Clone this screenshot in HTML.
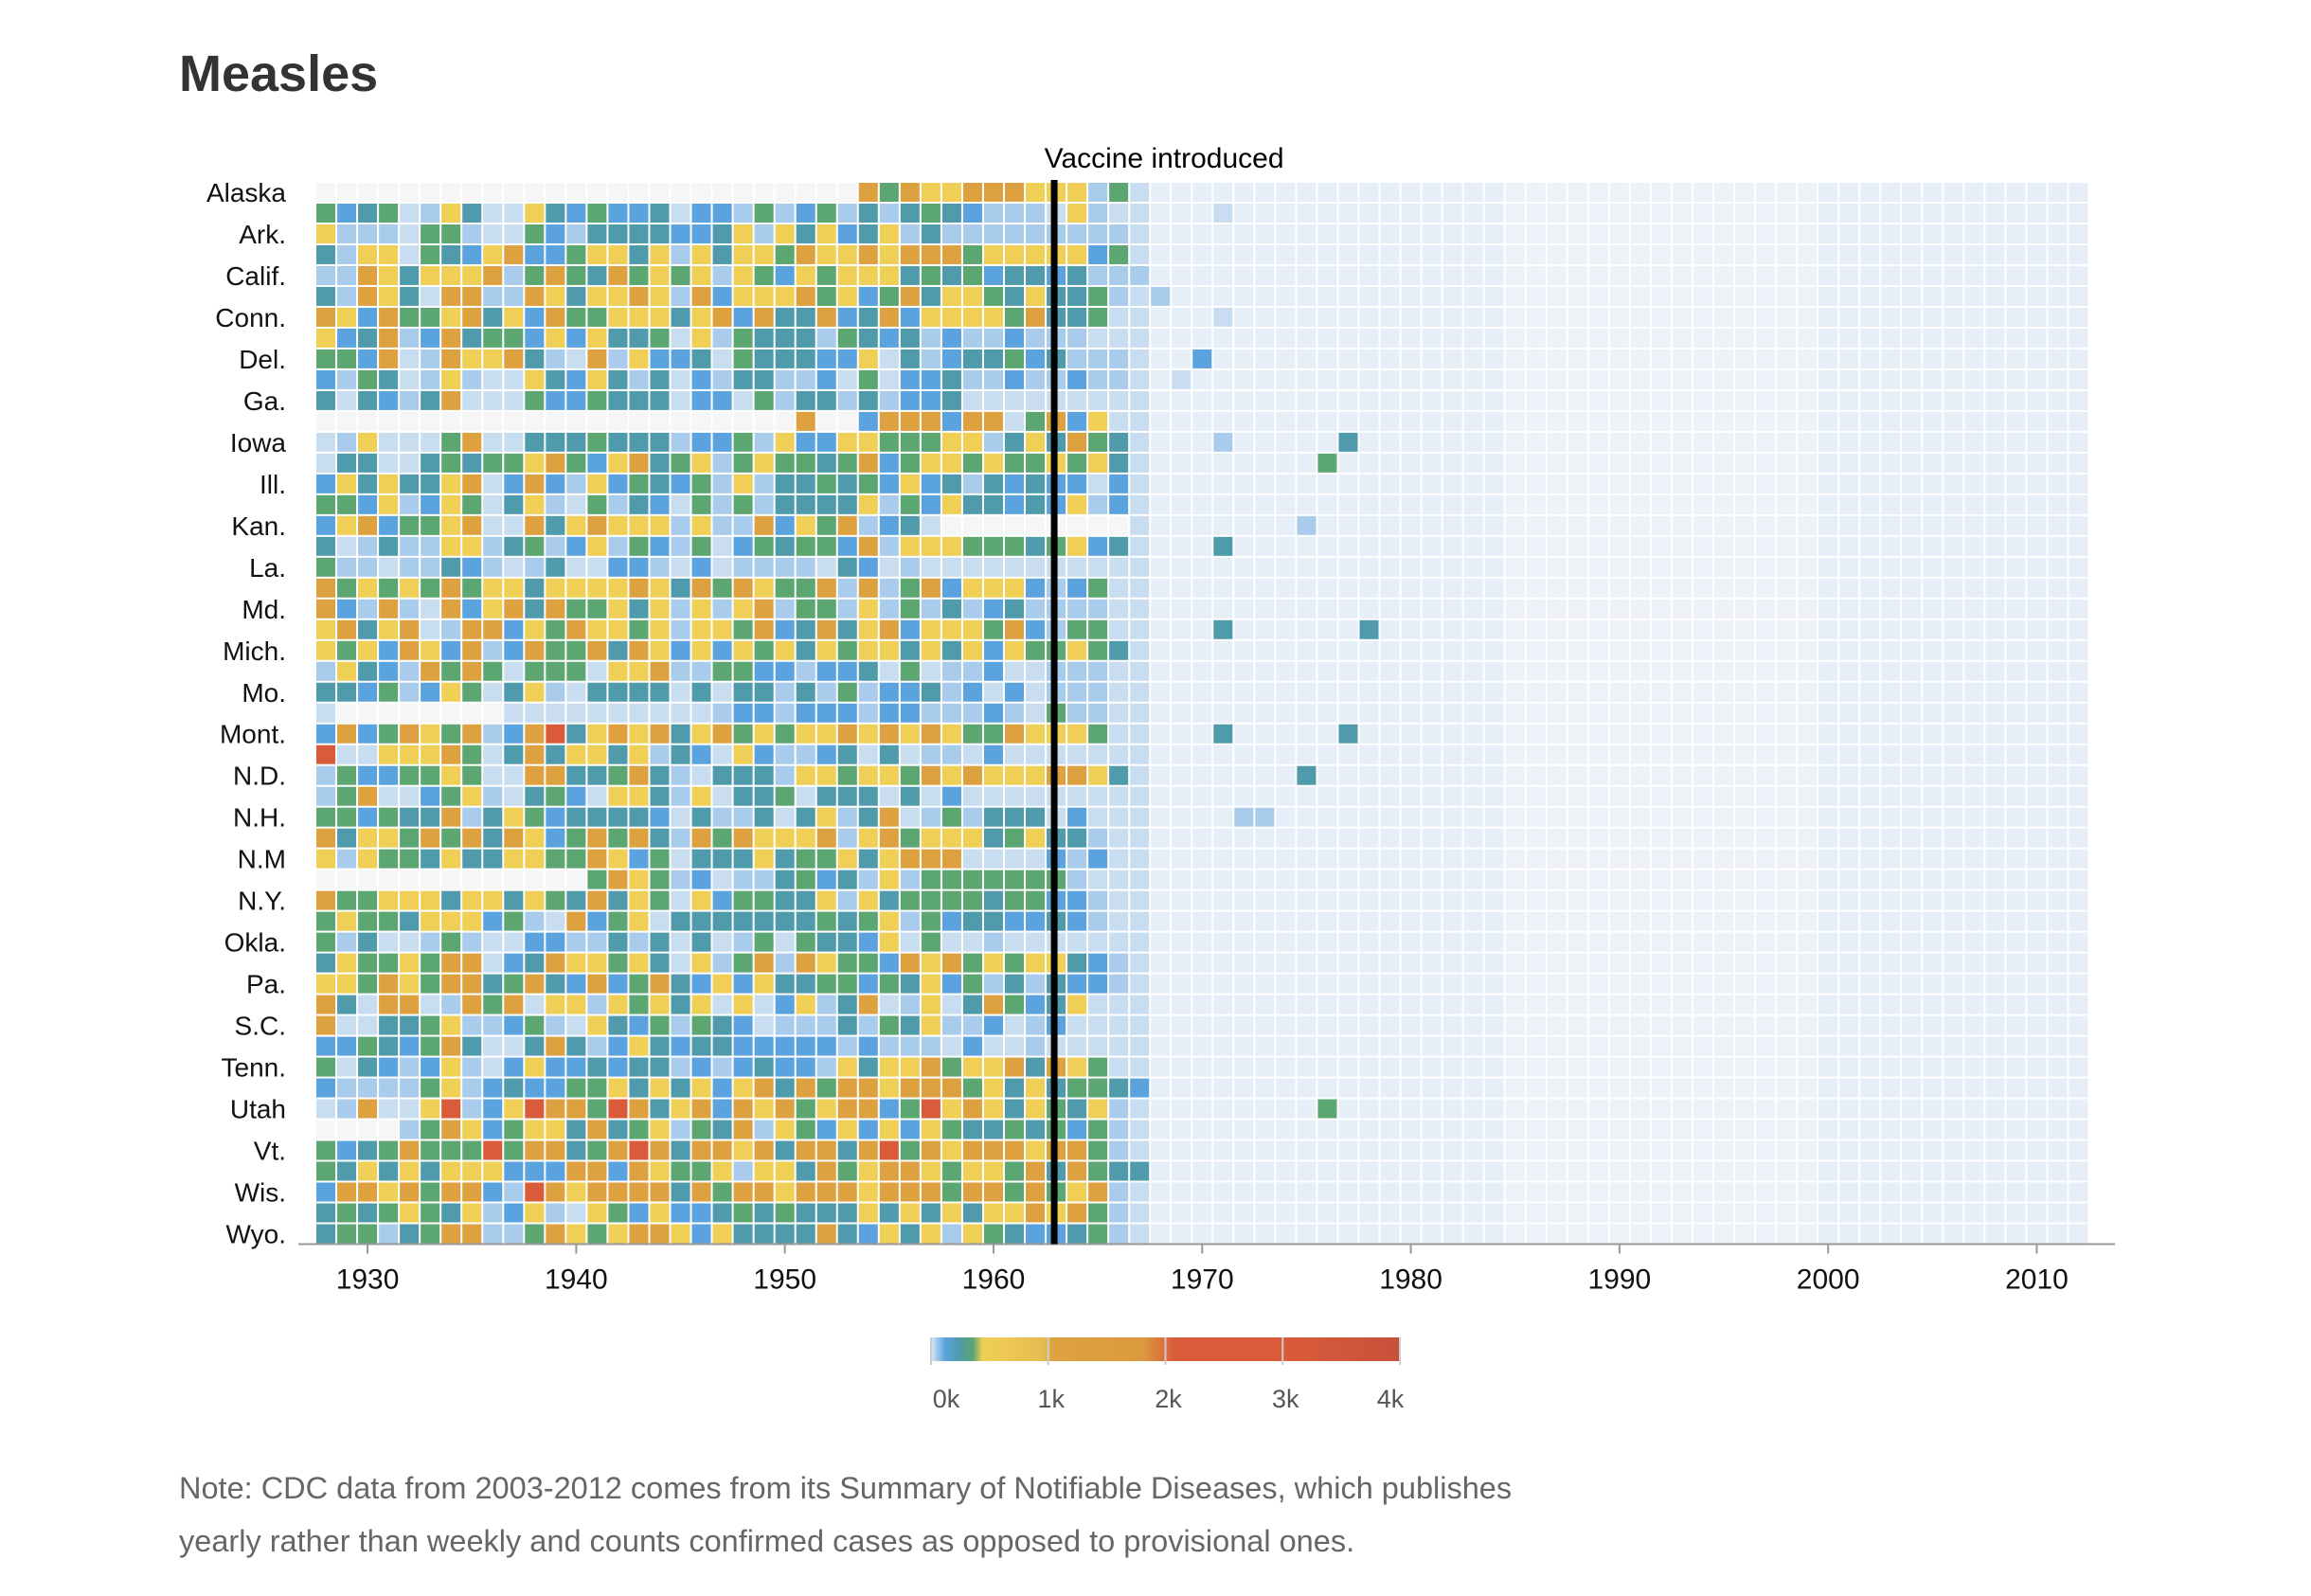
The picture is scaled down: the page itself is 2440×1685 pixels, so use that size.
<!DOCTYPE html>
<html><head><meta charset="utf-8"><style>
html,body{margin:0;padding:0;background:#fff;width:2440px;height:1685px;overflow:hidden}
svg{display:block;font-family:"Liberation Sans",sans-serif}
</style></head><body>
<svg id="chart" width="2440" height="1685" viewBox="0 0 2440 1685" xmlns="http://www.w3.org/2000/svg">
<text x="189" y="96" font-size="54" font-weight="bold" fill="#333">Measles</text>
<g id="cells"></g>
<g id="labels"></g>
<g id="xaxis"></g>
<g id="legend"></g>
<text x="189" y="1582" font-size="32.5" fill="#666">Note: CDC data from 2003-2012 comes from its Summary of Notifiable Diseases, which publishes</text>
<text x="189" y="1638" font-size="32.5" fill="#666">yearly rather than weekly and counts confirmed cases as opposed to provisional ones.</text>
</svg>
<script>
const states = ["Alaska","Ala.","Ark.","Ariz.","Calif.","Colo.","Conn.","D.C.","Del.","Fla.","Ga.","Hawaii","Iowa","Idaho","Ill.","Ind.","Kan.","Ky.","La.","Mass.","Md.","Maine","Mich.","Minn.","Mo.","Miss.","Mont.","N.C.","N.D.","Neb.","N.H.","N.J.","N.M","Nev.","N.Y.","Ohio","Okla.","Ore.","Pa.","R.I.","S.C.","S.D.","Tenn.","Texas","Utah","Va.","Vt.","Wash.","Wis.","W.Va.","Wyo."];
const firstYear = 1928, lastYear = 2012;
const earlyLevels = [
"xxxxxxxxxxxxxxxxxxxxxxxxxx6465566655514",
"423401530053242230221412413134321110510",
"511104410042133332235153523513111111111",
"315504325622455351535546556566645555524",
"116535556146436454515425455534342332311",
"316530661165355651625556452463554353341",
"652644563526445553562633623625555463340",
"523612634425253340514333143231211211100",
"442601655631061522304333225031233423111",
"214301510053253130213311204022311211211",
"303213600042243330220413313122300000000",
"xxxxxxxxxxxxxxxxxxxxxxx6xx2666266046250",
"015000460033343331224152255444551353643",
"033003434456425634514544346245545445453",
"253533560262152432415133434252313232202",
"442512540351041320414133335142533232512",
"256244560063565551511625461230xxxxxxxxx",
"301311551341251421402434426155544434523",
"411011321013002210201111032010000000000",
"645454645535555653646544616146255521240",
"621610625636445351515614415141312311110",
"563560166254655451554623635625554621440",
"545265261264463652525453545535352544543",
"153216464044405561144221223040112001110",
"332412540351033330303313141223120201110",
"0xxxxxxxx000000000012212221221112104110",
"262465461267356563564545565656544655540",
"700555640363553513205211230301102000000",
"142244540066334631033315545546565556653",
"146002451034205531503340333030200000000",
"442433613542333320311303513601413330200",
"635546463652464631646555615645553453310",
"515443533554465240333534453566600002120",
"xxxxxxxxxxxxx465412011342315144444441001",
"644555355354363540524433515344443442210",
"454435552410624503333333434514233223210",
"413001410022113130301404332504001000000",
"354454660236554530514616544265645455321",
"554654663463262463252533442435241313221",
"630660164605515453505025136015036423500",
"600334511241053241432011131435112012000",
"224324630036312532332222212111020010000",
"403212510252232331212322153556455636540",
"211114512322445353525636466566645353443",
"016005712576647635626564566247565354351",
"xxxx14652455363451436154252525433434241",
"423464447466346763665636636746566656641",
"435353555222662654451553645665455463643",
"266564662176566663646656665666466464561",
"343454351251054252234343335353535565641",
"344134661146545665253333632535154322341"
];
const lateBase = "0aaaaaaaaaaaaaaaaacccccccccccccccaaaaaaaaaaaaa";
const notableStates = ["Iowa","Iowa","Idaho","Kan.","Ky.","Maine","Maine","Mont.","Mont.","N.D.","Del.","Utah","N.H.","N.H.","Texas","Wash.","Ala.","Calif.","Colo.","Conn.","Fla."];
const notableYears = [1977,1971,1976,1975,1971,1971,1978,1971,1977,1975,1970,1976,1972,1973,1967,1967,1971,1967,1968,1971,1969];
const notableLevels = ["3","1","4","1","3","3","3","3","3","3","2","4","1","1","2","3","0","1","1","0","0"];
const levelColors = {x:"#f6f6f6",c:"#eef2f8",a:"#e6eef8","0":"#c9ddf1","1":"#a9cced","2":"#5aa3de","3":"#4f9bab","4":"#5ca671","5":"#f0cf56","6":"#dea140","7":"#d95b3a"};
const tickYears = [1930,1940,1950,1960,1970,1980,1990,2000,2010];
const legendTicks = ["0k","1k","2k","3k","4k"];

const NS = "http://www.w3.org/2000/svg";
const left = 333, top0 = 192, cw = 22.03, rh = 21.99;
const xOf = y => left + (y - firstYear) * cw;
const yOf = i => top0 + i * rh;
function mk(tag, attrs, parent){const e=document.createElementNS(NS,tag);for(const k in attrs)e.setAttribute(k,attrs[k]);parent.appendChild(e);return e;}

function levelAt(si, year){
  for(let k=0;k<notableStates.length;k++){ if(states[si]===notableStates[k] && notableYears[k]===year) return notableLevels[k]; }
  const c = year - firstYear;
  const s = earlyLevels[si];
  if(c < 39 && c < s.length) return s[c];
  return lateBase[year - 1967] || "a";
}
const cells = document.getElementById("cells");
states.forEach((st, si) => {
  for(let yr = firstYear; yr <= lastYear; yr++){
    const r = mk("rect",{x:xOf(yr)+1,y:yOf(si)+1,width:cw-2,height:rh-2,fill:levelColors[levelAt(si,yr)]||"#e6eef8"},cells);
    
    
  }
});
const labels = document.getElementById("labels");
states.forEach((st, si) => {
  if(si % 2) return;
  const t = mk("text",{x:302,y:yOf(si)+rh/2+10,"font-size":28,"text-anchor":"end",fill:"#111"},labels);
  t.textContent = st;
  
  
});
const ax = document.getElementById("xaxis");
const axisY = top0 + states.length*rh;
const axl = mk("line",{x1:315,x2:2233,y1:axisY,y2:axisY,stroke:"#999","stroke-width":2},ax);


tickYears.forEach(yr => {
  const cx = xOf(yr) + cw/2;
  const tk = mk("line",{x1:cx,x2:cx,y1:axisY,y2:axisY+10,stroke:"#999","stroke-width":2},ax);
  
  
  const t = mk("text",{x:cx,y:axisY+47,"font-size":30,"text-anchor":"middle",fill:"#111"},ax);
  t.textContent = yr;
  
  
});
const vx = xOf(1964) - 13;
const vl = mk("line",{x1:vx,x2:vx,y1:top0-2,y2:axisY,stroke:"#000","stroke-width":7},ax);


const vt = mk("text",{x:vx+116,y:177,"font-size":30,"text-anchor":"middle",fill:"#000"},ax);
vt.textContent = "Vaccine introduced";



const lg = document.getElementById("legend");
const defs = mk("defs",{},lg);
const grad = mk("linearGradient",{id:"lgrad",x1:0,x2:1,y1:0,y2:0},defs);
[[0,"#d7e6f5"],[0.03,"#5aa3de"],[0.06,"#4f9bab"],[0.09,"#5ca671"],[0.11,"#f0cf56"],[0.24,"#e6bc50"],[0.26,"#dea140"],[0.45,"#dc9a3e"],[0.5,"#d96d3b"],[0.52,"#d95b3a"],[0.76,"#d95b3a"],[1,"#c8503a"]].forEach(s=>mk("stop",{offset:s[0],"stop-color":s[1]},grad));
const lx0 = 983, lx1 = 1478, ly = 1412, lh = 25;
const bar = mk("rect",{x:lx0,y:ly,width:lx1-lx0,height:lh,fill:"url(#lgrad)"},lg);


legendTicks.forEach((lab,i)=>{
  const x = lx0 + i*(lx1-lx0)/4;
  const tl = mk("line",{x1:x,x2:x,y1:ly,y2:ly+lh+4,stroke:"#ccc","stroke-width":2},lg);
  
  
  const t = mk("text",{x:x+(i===0?16:(i===4?-10:3)),y:1486,"font-size":27,"text-anchor":"middle",fill:"#555"},lg);
  t.textContent = lab;
  
  
});
</script>
</body></html>
